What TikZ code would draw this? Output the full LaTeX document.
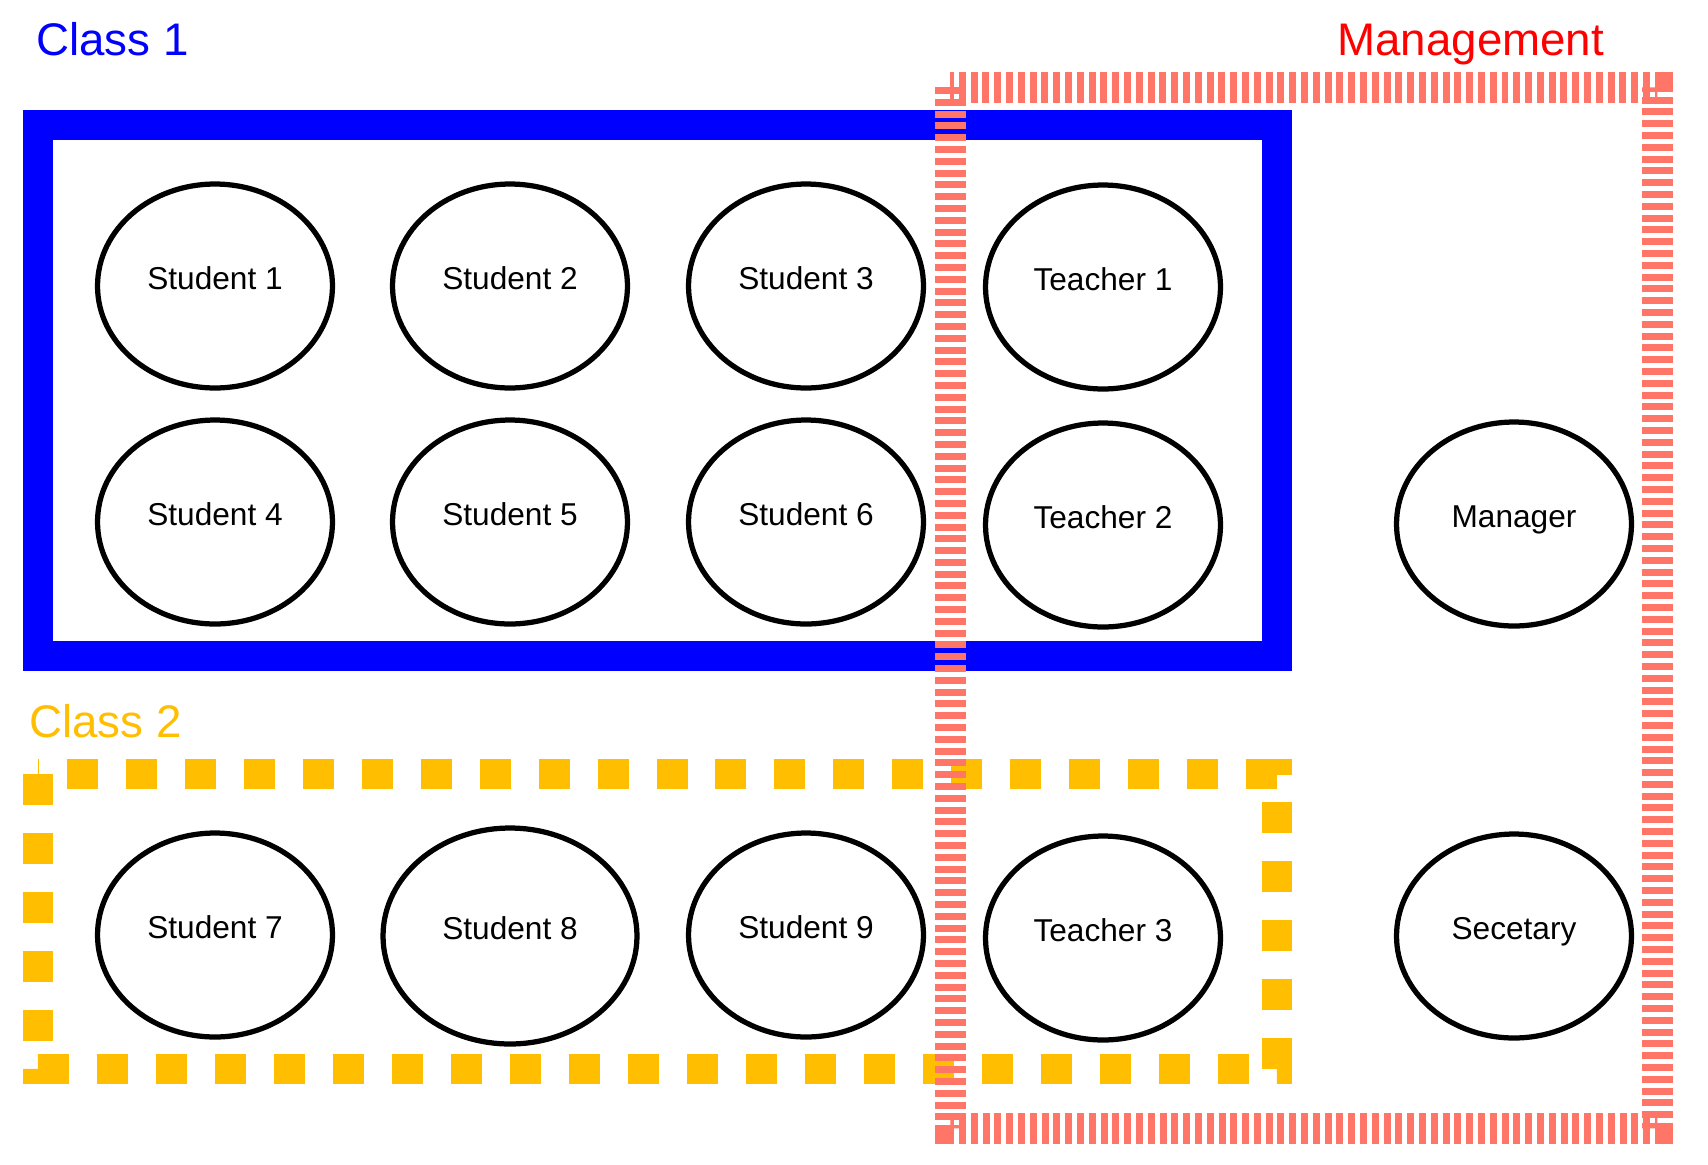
\documentclass[tikz,border=0pt]{standalone}
\usepackage{fontspec}
\setmainfont{Liberation Sans}
\usetikzlibrary{shapes.geometric}
\definecolor{mgmtred}{RGB}{255,118,105}
\definecolor{classyellow}{RGB}{255,190,0}

\begin{document}
\begin{tikzpicture}[x=0.02cm,y=-0.02cm,
		person/.style={draw,ellipse,line width=0.105cm,minimum width=4.7cm,minimum height=4.08cm,text height=0.455cm,text depth=0.335cm,font=\fontsize{18}{21}\selectfont},
		title/.style={anchor=base west,inner sep=0pt,font=\fontsize{26}{30}\selectfont}]
		\useasboundingbox (0,0) rectangle (1708,1164);

		\draw[blue,line width=0.6cm] (38,125) rectangle (1277,656);
		\draw[classyellow,line width=0.6cm,dash pattern=on 0.62cm off 0.56cm] (38,774) rectangle (1277,1069);
		\draw[mgmtred,line width=0.62cm,dash pattern=on 0.14cm off 0.096cm] (950,87) rectangle (1657,1128);

		\node[title,blue] at (36,55) (class1) {Class 1};
		\node[title,classyellow] at (29,737) (class2) {Class 2};
		\node[title,red] at (1337,55) (mgmt) {Management};

		\node[person] at (215,286) (s1) {Student 1};
		\node[person] at (510,286) (s2) {Student 2};
		\node[person] at (806,286) (s3) {Student 3};
		\node[person] at (1103,287) (t1) {Teacher 1};

		\node[person] at (215,522) (s4) {Student 4};
		\node[person] at (510,522) (s5) {Student 5};
		\node[person] at (806,522) (s6) {Student 6};
		\node[person] at (1103,525) (t2) {Teacher 2};
		\node[person] at (1514,524) (man) {Manager};

		\node[person] at (215,935) (s7) {Student 7};
		\node[person,minimum width=5.08cm,minimum height=4.32cm] at (510,936) (s8) {Student 8};
		\node[person] at (806,935) (s9) {Student 9};
		\node[person] at (1103,938) (t3) {Teacher 3};
		\node[person] at (1514,936) (sec) {Secetary};
	\end{tikzpicture}
\end{document}
